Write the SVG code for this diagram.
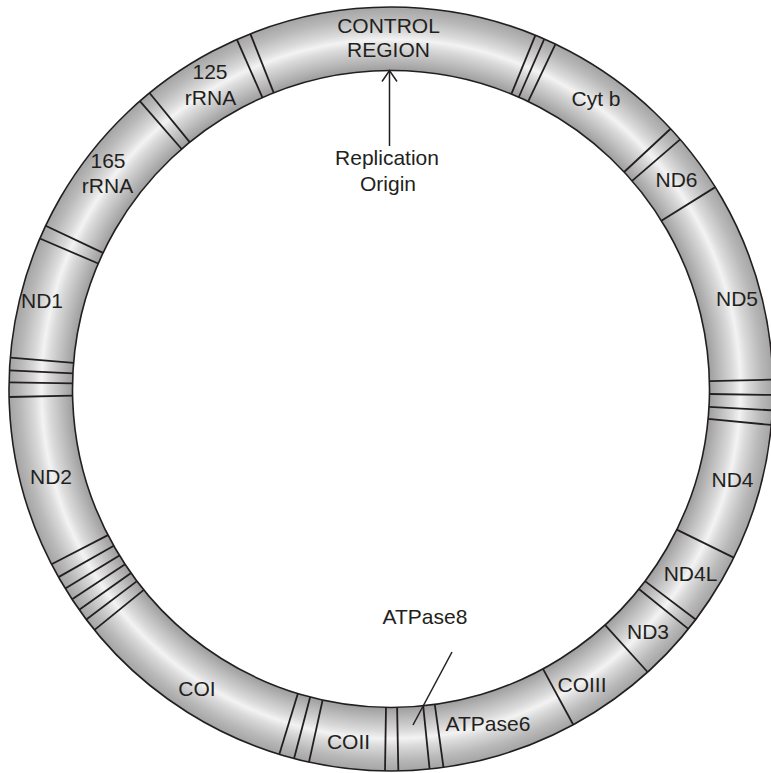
<svg xmlns="http://www.w3.org/2000/svg" xmlns:xlink="http://www.w3.org/1999/xlink" width="771" height="773" viewBox="0 0 771 773">
<style>
  .lbl { font-family: "Liberation Sans", Arial, sans-serif; font-size: 21px; fill: #231f20; text-anchor: middle; }
  .div { stroke: #231f20; stroke-width: 1.8; fill: none; }
  .ring { stroke: #231f20; stroke-width: 1.6; fill: url(#ringGrad); fill-rule: evenodd; }
  .conn { stroke: #231f20; stroke-width: 1.5; fill: none; }
</style>
<defs>
  <radialGradient id="ringGrad" gradientUnits="userSpaceOnUse" cx="391" cy="389" r="382">
    <stop offset="0.83" stop-color="#9a9a9a"/>
    <stop offset="0.86" stop-color="#b8b8b8"/>
    <stop offset="0.895" stop-color="#dadada"/>
    <stop offset="0.915" stop-color="#f3f3f3"/>
    <stop offset="0.935" stop-color="#dadada"/>
    <stop offset="0.97" stop-color="#b9b9b9"/>
    <stop offset="1" stop-color="#a4a4a4"/>
  </radialGradient>
  <line id="d" x1="391" y1="70.5" x2="391" y2="7" class="div"/>
</defs>

<rect width="771" height="773" fill="#ffffff"/>

<g id="ring">
  <path class="ring" d="M391,7 A382,382 0 1,1 390.99,7 Z M391,70.5 A318.5,318.5 0 1,0 391.01,70.5 Z"/>
</g>

<g id="dividers">
  <use xlink:href="#d" transform="rotate(-23.8 391 389)"/>
  <use xlink:href="#d" transform="rotate(-21.6 391 389)"/>
  <use xlink:href="#d" transform="rotate(-41.1 391 389)"/>
  <use xlink:href="#d" transform="rotate(-39.2 391 389)"/>
  <use xlink:href="#d" transform="rotate(-64.7 391 389)"/>
  <use xlink:href="#d" transform="rotate(-66.8 391 389)"/>
  <use xlink:href="#d" transform="rotate(-85.3 391 389)"/>
  <use xlink:href="#d" transform="rotate(-87.2 391 389)"/>
  <use xlink:href="#d" transform="rotate(-89 391 389)"/>
  <use xlink:href="#d" transform="rotate(-91.2 391 389)"/>
  <use xlink:href="#d" transform="rotate(-117.3 391 389)"/>
  <use xlink:href="#d" transform="rotate(-119.5 391 389)"/>
  <use xlink:href="#d" transform="rotate(-121.5 391 389)"/>
  <use xlink:href="#d" transform="rotate(-123.4 391 389)"/>
  <use xlink:href="#d" transform="rotate(-125.3 391 389)"/>
  <use xlink:href="#d" transform="rotate(-127.1 391 389)"/>
  <use xlink:href="#d" transform="rotate(-129.1 391 389)"/>
  <use xlink:href="#d" transform="rotate(-163 391 389)"/>
  <use xlink:href="#d" transform="rotate(-165.3 391 389)"/>
  <use xlink:href="#d" transform="rotate(-167.6 391 389)"/>
  <use xlink:href="#d" transform="rotate(-179.1 391 389)"/>
  <use xlink:href="#d" transform="rotate(178.9 391 389)"/>
  <use xlink:href="#d" transform="rotate(174.2 391 389)"/>
  <use xlink:href="#d" transform="rotate(172.1 391 389)"/>
  <use xlink:href="#d" transform="rotate(151.5 391 389)"/>
  <use xlink:href="#d" transform="rotate(137.8 391 389)"/>
  <use xlink:href="#d" transform="rotate(127.1 391 389)"/>
  <use xlink:href="#d" transform="rotate(128.9 391 389)"/>
  <use xlink:href="#d" transform="rotate(116.2 391 389)"/>
  <use xlink:href="#d" transform="rotate(88.6 391 389)"/>
  <use xlink:href="#d" transform="rotate(90.9 391 389)"/>
  <use xlink:href="#d" transform="rotate(93.2 391 389)"/>
  <use xlink:href="#d" transform="rotate(95.4 391 389)"/>
  <use xlink:href="#d" transform="rotate(58.1 391 389)"/>
  <use xlink:href="#d" transform="rotate(47.05 391 389)"/>
  <use xlink:href="#d" transform="rotate(49.2 391 389)"/>
  <use xlink:href="#d" transform="rotate(22.2 391 389)"/>
  <use xlink:href="#d" transform="rotate(23.65 391 389)"/>
  <use xlink:href="#d" transform="rotate(25.5 391 389)"/>
</g>

<g id="connectors">
  <line class="conn" x1="389.5" y1="146" x2="389.5" y2="71"/>
  <polyline class="conn" points="382,81.5 389.5,70.5 397,81.5"/>
  <line class="conn" x1="452" y1="652" x2="413" y2="725"/>
</g>

<g id="control-region"><text class="lbl" x="388.5" y="33">CONTROL</text><text class="lbl" x="388.5" y="57">REGION</text></g>
<g id="replication-origin"><text class="lbl" x="387" y="165">Replication</text><text class="lbl" x="388" y="191">Origin</text></g>
<g id="rrna12"><text class="lbl" x="210" y="79">125</text><text class="lbl" x="210.5" y="105">rRNA</text></g>
<g id="rrna16"><text class="lbl" x="108" y="168">165</text><text class="lbl" x="107.5" y="193">rRNA</text></g>
<g id="nd1"><text class="lbl" x="42" y="308">ND1</text></g>
<g id="nd2"><text class="lbl" x="51" y="484">ND2</text></g>
<g id="coi"><text class="lbl" x="197" y="696">COI</text></g>
<g id="coii"><text class="lbl" x="348.5" y="749">COII</text></g>
<g id="atpase8"><text class="lbl" x="425" y="624">ATPase8</text></g>
<g id="atpase6"><text class="lbl" x="488" y="731">ATPase6</text></g>
<g id="coiii"><text class="lbl" x="582" y="692">COIII</text></g>
<g id="nd3"><text class="lbl" x="648" y="639">ND3</text></g>
<g id="nd4l"><text class="lbl" x="690.5" y="581">ND4L</text></g>
<g id="nd4"><text class="lbl" x="732.5" y="487">ND4</text></g>
<g id="nd5"><text class="lbl" x="737" y="306">ND5</text></g>
<g id="nd6"><text class="lbl" x="676.5" y="187">ND6</text></g>
<g id="cytb"><text class="lbl" x="596" y="106">Cyt b</text></g>
</svg>
